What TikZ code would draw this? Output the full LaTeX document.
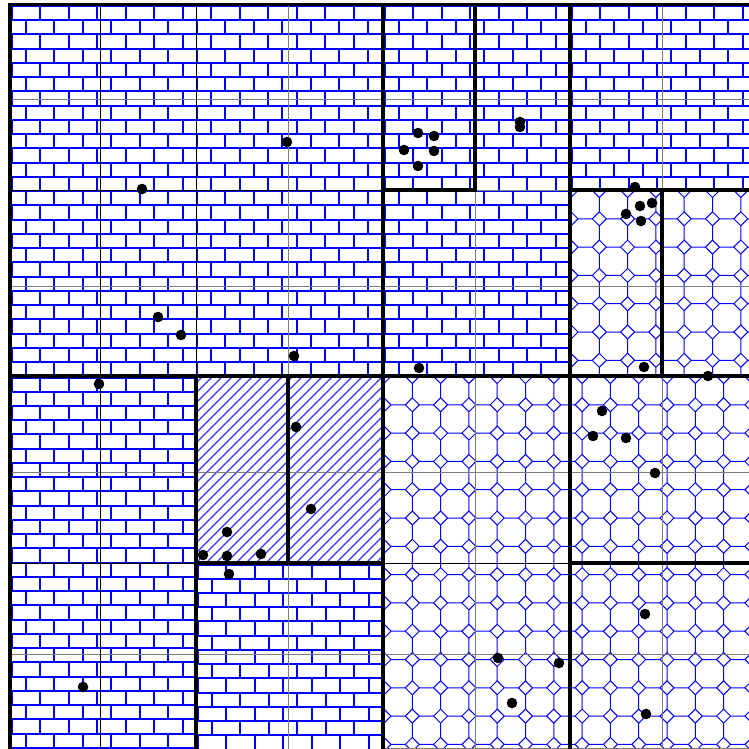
\documentclass[tikz,border=0pt]{standalone}
\definecolor{TileBlue}{RGB}{0,0,255}
\definecolor{GridGray}{RGB}{125,125,125}
\newcommand{\brickfill}[4]{%
  \begin{scope}
    \clip (#1,#2) rectangle (#3,#4);
    \foreach \r in {-1,...,26}{
      \pgfmathsetmacro{\rowy}{#2+1.5+14.24*\r}
      \pgfmathsetmacro{\rowx}{#1+1.5+14.25*mod(\r+2,2)}
      \draw[brick] (#1,\rowy) -- (#3,\rowy);
      \foreach \c in {-1,...,13}
        \draw[brick] (\rowx+28.5*\c,\rowy) -- ++(0,14.24);
    }
  \end{scope}}
\newcommand{\octfill}[4]{%
  \begin{scope}
    \clip (#1,#2) rectangle (#3,#4);
    \foreach \i in {-1,...,13}
      \foreach \j in {-1,...,13}{
        \pgfmathsetmacro{\cx}{#1+1+28.3*\i}
        \pgfmathsetmacro{\cy}{#2+0.5+28.3*\j}
        \draw[octo] (\cx+7,\cy) -- (\cx,\cy+7) -- (\cx-7,\cy) -- (\cx,\cy-7) -- cycle
          (\cx+7,\cy) -- (\cx+21.3,\cy) (\cx,\cy+7) -- (\cx,\cy+21.3);
      }
  \end{scope}}
\newcommand{\hatchfill}[4]{%
  \begin{scope}
    \clip (#1,#2) rectangle (#3,#4);
    \foreach \k in {-20,...,20}
      \draw[hatch] (#1+10*\k,#4) -- ++(200,-200);
  \end{scope}}

\begin{document}
\begin{tikzpicture}[x=0.5pt,y=-0.5pt,
    brick/.style={TileBlue,line width=1pt},
    octo/.style={TileBlue,line width=0.5pt},
    hatch/.style={TileBlue!80,line width=0.55pt},
    gridline/.style={GridGray,line width=0.5pt},
    cell/.style={black,line width=0.5pt},
    leaf/.style={black,line width=1.6pt,line cap=rect}]
  \useasboundingbox (0,0) rectangle (749,749);
  \clip (0,0) rectangle (749,749);
  \fill[white] (0,0) rectangle (749,749);
  \brickfill{10}{4.5}{383}{376}
  \brickfill{383}{4.5}{570}{376}
  \brickfill{570}{4.5}{757}{190}
  \brickfill{10}{376}{196}{757}
  \brickfill{196}{563}{383}{757}
  \octfill{570}{190}{757}{376}
  \octfill{383}{376}{757}{757}
  \hatchfill{196}{376}{383}{563}
  \foreach \y in {99.5,286,472.7,654}
    \draw[gridline] (10,\y) -- (757,\y);
  \draw[gridline] (383,748) -- (757,748);
  \draw[gridline] (288,4.5) -- (288,376) (288,563) -- (288,757);
  \draw[gridline] (475,190) -- (475,757) (475,190) -- (570,190);
  \draw[gridline] (662,4.5) -- (662,190) (662,376) -- (662,757);
  \draw[cell] (100,4.5) -- (100,757) (196,4.5) -- (196,376);
  \draw[cell] (10,190) -- (383,190) (10,563) -- (196,563) (383,563) -- (570,563);
  \draw[leaf] (10,757) -- (10,4.5) -- (757,4.5);
  \draw[leaf] (383,4.5) -- (383,757) (10,376) -- (757,376);
  \draw[leaf] (475,4.5) -- (475,190) (383,190) -- (475,190) (570,190) -- (757,190);
  \draw[leaf] (570,4.5) -- (570,757) (662,190) -- (662,376) (570,563) -- (757,563);
  \draw[leaf] (196,376) -- (196,757) (196,563) -- (383,563) (288,376) -- (288,563);
  \foreach \px/\py in {287/142,142/189,158/317,181/335,294/356,99/384,
      418/133,434/136,404/150,434/151,418/166,520/122,520/127,
      635/187,640/206,652/203,626/214,641/221,644/367,708/376,419/368,
      602/411,593/436,626/438,655/473,
      296/427,311/509,227/532,203/555,227/556,261/554,229/574,
      83/687,645/614,498/658,559/663,512/703,646/714}
    \fill (\px,\py) circle[radius=2.65pt];
\end{tikzpicture}
\end{document}
